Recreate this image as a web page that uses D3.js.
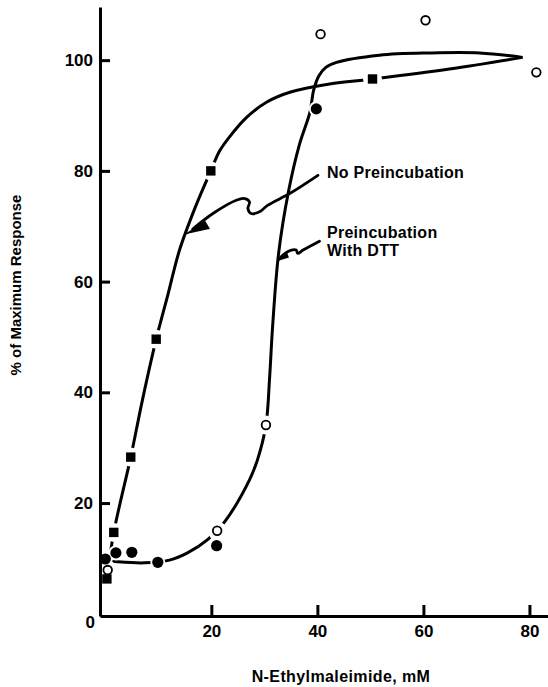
<!DOCTYPE html>
<html>
<head>
<meta charset="utf-8">
<script src="https://cdnjs.cloudflare.com/ajax/libs/d3/7.8.5/d3.min.js"></script>
<style>
body { margin: 0; background: #fff; }
svg text { font-family: "Liberation Sans", Arial, sans-serif; font-weight: bold; fill: #000; }
</style>
</head>
<body>
<svg id="chart" width="548" height="687"></svg>
<script>
// measured points: N-ethylmaleimide (mM) vs % of maximum response
var noPreX = [0.3, 1.6, 4.8, 9.6, 19.9, 50.4];
var noPreY = [6.3, 14.7, 28.3, 49.6, 80, 96.6];
var dttFilledX = [0, 2.0, 5.0, 9.9, 21.0, 39.8];
var dttFilledY = [9.9, 11.0, 11.1, 9.3, 12.3, 91.2];
var dttOpenX = [0.45, 21.1, 30.3, 40.6, 60.4, 81.3];
var dttOpenY = [7.9, 15.0, 34.1, 104.7, 107.2, 97.8];

// hand drawn fit curves
var fitNoPreX = [0.3, 1.6, 4.8, 7.0, 9.6, 11.8, 14.0, 17.0, 19.9, 21.5, 23.4, 26.7, 30.4, 34.8, 42.3, 50.4, 64.9, 78.7];
var fitNoPreY = [6.3, 14.7, 28.3, 38.6, 49.6, 57.6, 65.7, 73.5, 80, 83.5, 86.1, 89.7, 92.4, 94.2, 95.7, 96.6, 98.4, 100.5];
var fitDttX = [-0.5, 2.3, 7.4, 12.1, 15.5, 19.3, 22.5, 27.2, 28.7, 30.3, 31.0, 31.55, 32.7, 34.6, 36.6, 38.6, 39.3, 40.3, 41.6, 43.6, 51.7, 61.1, 70.6, 78.7];
var fitDttY = [9.7, 9.4, 9.2, 9.7, 11.0, 13.4, 16.6, 24.2, 27.8, 34.1, 42.8, 51.8, 65.2, 76.5, 84.7, 90.6, 94.6, 97.2, 98.7, 99.6, 100.9, 101.3, 101.3, 100.5];

// annotation arrows
var arrowNoPreX = [40.1, 34.76, 30.67, 29.1, 27.5, 26.9, 27.2, 26.3, 24.7, 20.3, 16.5];
var arrowNoPreY = [79.2, 75.9, 73.8, 72.6, 72.3, 73.2, 74.4, 75.0, 74.7, 72.3, 69.5];
var headNoPreX = [15.3, 18.8, 19.6];
var headNoPreY = [68.6, 70.8, 69.5];
var arrowDttX = [40.4, 37.3, 36.3, 36.0, 35.1, 33.5, 32.8];
var arrowDttY = [67.3, 65.7, 65.1, 65.7, 65.7, 64.8, 64.1];
var headDttX = [32.5, 34.1, 34.5];
var headDttY = [63.7, 65.3, 64.3];

var labelNoPre = ["No Preincubation"];
var labelDtt = ["Preincubation", "With DTT"];

var yTicks = [0, 20, 40, 60, 80, 100];
var xTicks = [20, 40, 60, 80];

function zip(xs, ys) {
  return xs.map(function(d, i) { return {x: d, y: ys[i]}; });
}

function drawChart(id) {

// set the dimensions and margins of the graph
var margin = {top: 7, right: 0, bottom: 71, left: 100},
    width = 548 - margin.left - margin.right,
    height = 687 - margin.top - margin.bottom;

var x = d3.scaleLinear().domain([-1, 83.5]).range([0, width]);
var y = d3.scaleLinear().domain([-0.4, 109.6]).range([height, 0]);

var svg = d3.select(id);
svg.selectAll('*').remove();

var g = svg.append("g")
    .attr("transform", "translate(" + margin.left + "," + margin.top + ")");

var line = d3.line()
    .x(function(d) { return x(d.x); })
    .y(function(d) { return y(d.y); })
    .curve(d3.curveCatmullRom.alpha(0.5));

// fitted curves
g.append("path")
    .datum(zip(fitNoPreX, fitNoPreY))
    .attr("d", line)
    .attr("fill", "none")
    .attr("stroke", "#000")
    .attr("stroke-width", 3);

g.append("path")
    .datum(zip(fitDttX, fitDttY))
    .attr("d", line)
    .attr("fill", "none")
    .attr("stroke", "#000")
    .attr("stroke-width", 3);

// arrows
[[arrowNoPreX, arrowNoPreY], [arrowDttX, arrowDttY]].forEach(function(a) {
  g.append("path")
      .datum(zip(a[0], a[1]))
      .attr("d", line)
      .attr("fill", "none")
      .attr("stroke", "#000")
      .attr("stroke-width", 2.8)
      .attr("stroke-linecap", "round");
});

[[headNoPreX, headNoPreY], [headDttX, headDttY]].forEach(function(h) {
  g.append("path")
      .datum(zip(h[0], h[1]))
      .attr("d", d3.line().x(function(d) { return x(d.x); }).y(function(d) { return y(d.y); }))
      .attr("fill", "#000")
      .attr("stroke", "#000")
      .attr("stroke-width", 1.5)
      .attr("stroke-linejoin", "round");
});

// white gaps where the curves meet the markers
var allPts = zip(noPreX, noPreY).map(function(d) { d.r = 9.5; return d; })
    .concat(zip(dttOpenX, dttOpenY).map(function(d) { d.r = 9.5; return d; }))
    .concat(zip(dttFilledX, dttFilledY).map(function(d) { d.r = 7.5; return d; }));

g.selectAll(".halo")
    .data(allPts)
  .enter().append("circle")
    .attr("class", "halo")
    .attr("cx", function(d) { return x(d.x); })
    .attr("cy", function(d) { return y(d.y); })
    .attr("r", function(d) { return d.r; })
    .attr("fill", "#fff");

// Add the Y Axis
var yAxis = g.append("g")
    .call(d3.axisLeft(y).tickValues(yTicks).tickSize(-10).tickSizeOuter(0).tickPadding(7));

// Add the X Axis
var xAxis = g.append("g")
    .attr("transform", "translate(0," + height + ")")
    .call(d3.axisBottom(x).tickValues(xTicks).tickSize(-11).tickSizeOuter(0).tickPadding(9));

[yAxis, xAxis].forEach(function(ax) {
  ax.select(".domain").attr("stroke", "#000").attr("stroke-width", 3);
  ax.selectAll(".tick line").attr("stroke", "#000").attr("stroke-width", 3);
  ax.selectAll(".tick text")
      .style("font-size", "17px")
      .style("font-family", "'Liberation Sans', Arial, sans-serif")
      .style("font-weight", "bold")
      .attr("fill", "#000");
});

// origin label sits a bit below, no tick mark
yAxis.selectAll(".tick").filter(function(d) { return d === 0; })
    .each(function() {
      d3.select(this).select("line").remove();
      d3.select(this).select("text").attr("y", 8).attr("x", -5);
    });

// markers
g.selectAll(".sq")
    .data(zip(noPreX, noPreY))
  .enter().append("rect")
    .attr("class", "sq")
    .attr("x", function(d) { return x(d.x) - 4.7; })
    .attr("y", function(d) { return y(d.y) - 4.7; })
    .attr("width", 9.4)
    .attr("height", 9.4)
    .attr("fill", "#000");

g.selectAll(".filled")
    .data(zip(dttFilledX, dttFilledY))
  .enter().append("circle")
    .attr("class", "filled")
    .attr("cx", function(d) { return x(d.x); })
    .attr("cy", function(d) { return y(d.y); })
    .attr("r", 5.6)
    .attr("fill", "#000");

g.selectAll(".open")
    .data(zip(dttOpenX, dttOpenY))
  .enter().append("circle")
    .attr("class", "open")
    .attr("cx", function(d) { return x(d.x); })
    .attr("cy", function(d) { return y(d.y); })
    .attr("r", 4.3)
    .attr("fill", "#fff")
    .attr("stroke", "#000")
    .attr("stroke-width", 1.8);

// annotations
g.append("text")
    .attr("x", x(41.8))
    .attr("y", y(78.8))
    .style("font-size", "16px")
    .style("letter-spacing", "0.3px")
    .text(labelNoPre[0]);

var t2 = g.append("text")
    .attr("x", x(41.8))
    .attr("y", y(67.9))
    .style("font-size", "16px")
    .style("letter-spacing", "0.3px");
t2.selectAll("tspan")
    .data(labelDtt)
  .enter().append("tspan")
    .attr("x", x(41.8))
    .attr("dy", function(d, i) { return i === 0 ? 0 : 18; })
    .text(function(d) { return d; });

// axis titles
svg.append("text")
    .attr("x", 341)
    .attr("y", 682)
    .style("text-anchor", "middle")
    .style("font-size", "16px")
    .style("letter-spacing", "0.4px")
    .text("N-Ethylmaleimide, mM");

svg.append("text")
    .attr("transform", "translate(21,285) rotate(-90)")
    .style("text-anchor", "middle")
    .style("font-size", "15px")
    .text("% of Maximum Response");
}

drawChart("#chart");
</script>
</body>
</html>
